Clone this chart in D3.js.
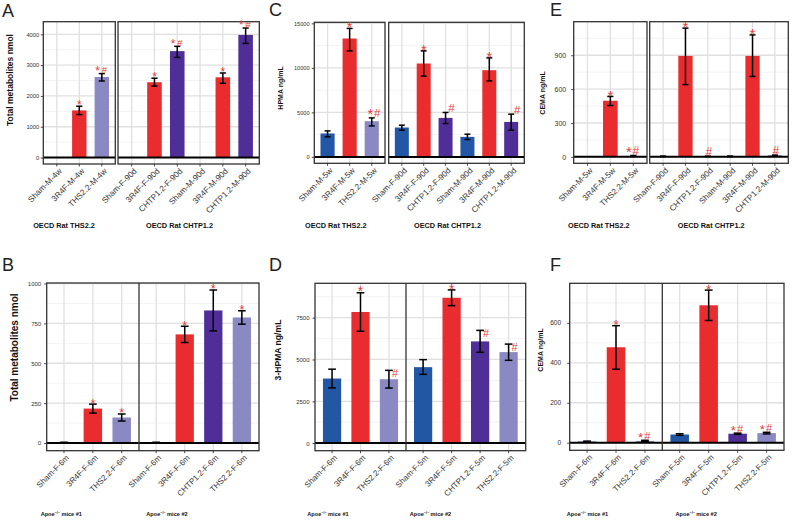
<!DOCTYPE html>
<html><head><meta charset="utf-8">
<script src="https://cdn.jsdelivr.net/npm/d3@7"></script>
<style>body{margin:0;background:#fff} svg{display:block} text{font-family:"Liberation Sans",Arial,sans-serif}</style>
</head><body>
<svg id="c" width="793" height="520"></svg>
<script>
// ---------- data ----------
const productNames = ["Sham","3R4F","CHTP1.2","THS2.2"];
const productColors = ["#2257a5","#e92d2e","#4f2f97","#8b89c3"];

const ratFacetLabels = ["OECD Rat THS2.2","OECD Rat CHTP1.2"];
const apoeFacetLabels = [["Apoe","\u2212/\u2212"," mice #1"],["Apoe","\u2212/\u2212"," mice #2"]];

// Panel A
const aCategories = ["Sham-M-4w","3R4F-M-4w","THS2.2-M-4w","Sham-F-90d","3R4F-F-90d","CHTP1.2-F-90d","Sham-M-90d","3R4F-M-90d","CHTP1.2-M-90d"];
const aFacets = [0,0,0,1,1,1,1,1,1];
const aValues = [null,1530,2615,null,2445,3455,null,2605,3980];
const aLower  = [null,1395,2485,null,2320,3250,null,2410,3705];
const aUpper  = [null,1665,2725,null,2575,3610,null,2745,4205];
const aSignif = ["","*","*#","","*","*#","","*","*#"];
const aTicks = [0,1000,2000,3000,4000];

// Panel C
const cCategories = ["Sham-M-5w","3R4F-M-5w","THS2.2-M-5w","Sham-F-90d","3R4F-F-90d","CHTP1.2-F-90d","Sham-M-90d","3R4F-M-90d","CHTP1.2-M-90d"];
const cFacets = [0,0,0,1,1,1,1,1,1];
const cValues = [2630,13300,4010,3300,10490,4380,2250,9740,3930];
const cLower  = [2250,11910,3480,3000,9070,3750,1955,8540,3000];
const cUpper  = [2920,14430,4380,3560,11910,4990,2550,11120,4800];
const cSignif = ["","*","*#","","*","#","","*","#"];
const cTicks = [0,5000,10000,15000];

// Panel E
const eCategories = ["Sham-M-5w","3R4F-M-5w","THS2.2-M-5w","Sham-F-90d","3R4F-F-90d","CHTP1.2-F-90d","Sham-M-90d","3R4F-M-90d","CHTP1.2-M-90d"];
const eFacets = [0,0,0,1,1,1,1,1,1];
const eValues = [null,497,8,4,894,4,4,894,12];
const eLower  = [null,455,4,2,640,2,2,712,8];
const eUpper  = [null,535,12,7,1140,7,7,1080,16];
const eSignif = ["","*","*#","","*","#","","*","#"];
const eTicks = [0,300,600,900];

// Panel B
const bCategories = ["Sham-F-6m","3R4F-F-6m","THS2.2-F-6m","Sham-F-6m","3R4F-F-6m","CHTP1.2-F-6m","THS2.2-F-6m"];
const bFacets = [0,0,0,1,1,1,1];
const bValues = [3,216,160,3,681,831,787];
const bLower  = [1,188,138,1,630,703,745];
const bUpper  = [5,244,182,5,732,959,829];
const bSignif = ["","*","*","","*","*","*"];
const bTicks = [0,250,500,750,1000];

// Panel D
const dCategories = ["Sham-F-6m","3R4F-F-6m","THS2.2-F-6m","Sham-F-5m","3R4F-F-5m","CHTP1.2-F-5m","THS2.2-F-5m"];
const dFacets = [0,0,0,1,1,1,1];
const dValues = [3860,7840,3820,4540,8690,6080,5440];
const dLower  = [3300,6690,3290,4110,8220,5430,4950];
const dUpper  = [4420,8990,4350,4990,9160,6740,5920];
const dSignif = ["","*","#","","*","#","#"];
const dTicks = [0,2500,5000,7500];

// Panel F
const fCategories = ["Sham-F-6m","3R4F-F-6m","THS2.2-F-6m","Sham-F-5m","3R4F-F-5m","CHTP1.2-F-5m","THS2.2-F-5m"];
const fFacets = [0,0,0,1,1,1,1];
const fValues = [6,478,9,41,688,45,48];
const fLower  = [4,368,6,37,612,42,44];
const fUpper  = [8,586,12,45,764,48,52];
const fSignif = ["","*","*#","","*","*#","*#"];
const fTicks = [0,200,400,600];

// ---------- layout ----------
const panels = [
  {letter:"A", lx:2, ly:17, ytitle:"Total metabolites nmol", tx:10, ty:80, tsize:8.5,
   facets:[[43.3,115.3],[118,259.3]], top:21.7, bottom:164, domain:[-210,4410], ticks:aTicks,
   joined:false, tickGap:3.5, tickFont:5.8, xFont:8.2, strips:ratFacetLabels, sx:[64,179.5], sy:228, sFont:7.3,
   sigFont:9.5, hashOff:0, shift:false,
   d:{cats:aCategories, facet:aFacets, val:aValues, lo:aLower, hi:aUpper, sig:aSignif}},
  {letter:"C", lx:269, ly:16, ytitle:"HPMA ng/mL", tx:280.5, ty:88, tsize:7,
   facets:[[314.3,385],[388.7,524.3]], top:22.3, bottom:163.3, domain:[-720,15120], ticks:cTicks,
   joined:false, tickGap:4.3, tickFont:5.6, xFont:8.2, strips:ratFacetLabels, sx:[335.8,447.5], sy:228, sFont:7.3,
   sigFont:11.5, hashOff:0, shift:true,
   d:{cats:cCategories, facet:cFacets, val:cValues, lo:cLower, hi:cUpper, sig:cSignif}},
  {letter:"E", lx:550, ly:16, ytitle:"CEMA ng/mL", tx:542.5, ty:93, tsize:7,
   facets:[[573.7,647],[649.7,788.3]], top:21.7, bottom:163.3, domain:[-57,1197], ticks:eTicks,
   joined:false, tickGap:7, tickFont:7, xFont:8.2, strips:ratFacetLabels, sx:[598.8,711.2], sy:228, sFont:7.3,
   sigFont:12, hashOff:0, shift:false,
   d:{cats:eCategories, facet:eFacets, val:eValues, lo:eLower, hi:eUpper, sig:eSignif}},
  {letter:"B", lx:2, ly:271, ytitle:"Total metabolites nmol", tx:14.5, ty:347.5, tsize:10,
   facets:[[46.7,139],[139,259]], top:283, bottom:450.7, domain:[-48,1003], ticks:bTicks,
   joined:true, tickGap:5, tickFont:6, xFont:8, apoe:true, sx:[61.3,167], sy:516, sFont:5.6,
   sigFont:10, hashOff:0, shift:false,
   d:{cats:bCategories, facet:bFacets, val:bValues, lo:bLower, hi:bUpper, sig:bSignif}},
  {letter:"D", lx:269, ly:271, ytitle:"3-HPMA ng/mL", tx:277.5, ty:350, tsize:8.6,
   facets:[[315,406],[406,525.7]], top:283.3, bottom:450.7, domain:[-455,9555], ticks:dTicks,
   joined:true, tickGap:5, tickFont:6, xFont:8, apoe:true, sx:[328,430.5], sy:516, sFont:5.6,
   sigFont:11, hashOff:7, shift:true,
   d:{cats:dCategories, facet:dFacets, val:dValues, lo:dLower, hi:dUpper, sig:dSignif}},
  {letter:"F", lx:550, ly:271, ytitle:"CEMA ng/mL", tx:540.5, ty:350, tsize:7,
   facets:[[569.7,662.3],[662.3,784]], top:283.3, bottom:450.3, domain:[-38,798], ticks:fTicks,
   joined:true, tickGap:8, tickFont:6.6, xFont:8, apoe:true, sx:[587.5,696.2], sy:516, sFont:5.6,
   sigFont:10.5, hashOff:0, shift:false,
   d:{cats:fCategories, facet:fFacets, val:fValues, lo:fLower, hi:fUpper, sig:fSignif}}
];

const svg = d3.select("#c");
const color = d3.scaleOrdinal().domain(productNames).range(productColors);
const sigColor = "#e63b3b";

function drawPanel(L) {
  const D = L.d;
  const g = svg.append("g");
  const y = d3.scaleLinear().domain(L.domain).range([L.bottom, L.top]);
  const step = L.ticks[1] - L.ticks[0];
  const minor = d3.range(L.ticks[0] - step/2, L.domain[1], step)
     .filter(v => v > L.domain[0] && v < L.domain[1]);

  const facets = L.facets.map((ext, f) => {
    const idx = D.cats.map((c, i) => i).filter(i => D.facet[i] === f);
    const x = d3.scaleBand().domain(idx.map(i => D.cats[i])).range(ext)
      .paddingInner(0).paddingOuter(0.1);
    return {ext, idx, x};
  });

  facets.forEach(F => {
    const [x0, x1] = F.ext;
    const bw = F.x.bandwidth();
    const cx = c => F.x(c) + bw / 2;
    const gg = g.append("g");
    gg.append("rect").attr("x", x0).attr("y", L.top).attr("width", x1 - x0)
      .attr("height", L.bottom - L.top).attr("fill", "#fff");
    gg.selectAll(".mn").data(minor).join("line")
      .attr("x1", x0).attr("x2", x1).attr("y1", d => y(d)).attr("y2", d => y(d))
      .attr("stroke", "#eeeeee").attr("stroke-width", 0.7);
    gg.selectAll(".mj").data(L.ticks).join("line")
      .attr("x1", x0).attr("x2", x1).attr("y1", d => y(d)).attr("y2", d => y(d))
      .attr("stroke", "#e0e0e0").attr("stroke-width", 1.3);
    gg.selectAll(".vg").data(F.idx).join("line")
      .attr("x1", i => cx(D.cats[i])).attr("x2", i => cx(D.cats[i]))
      .attr("y1", L.top).attr("y2", L.bottom)
      .attr("stroke", "#e0e0e0").attr("stroke-width", 1.3);

    const withVal = F.idx.filter(i => D.val[i] !== null);
    const barW = bw * 0.64;
    gg.selectAll(".bar").data(withVal).join("rect")
      .attr("x", i => cx(D.cats[i]) - barW / 2)
      .attr("width", barW)
      .attr("y", i => y(D.val[i]))
      .attr("height", i => y(0) - y(D.val[i]))
      .attr("fill", i => color(D.cats[i].split("-")[0]));

    gg.append("line").attr("x1", x0).attr("x2", x1).attr("y1", y(0)).attr("y2", y(0))
      .attr("stroke", "#000").attr("stroke-width", 2);

    const capW = bw * 0.27;
    const eb = gg.selectAll(".eb").data(withVal).join("g").attr("stroke", "#000").attr("stroke-width", 1.5);
    eb.append("line").attr("x1", i => cx(D.cats[i])).attr("x2", i => cx(D.cats[i]))
      .attr("y1", i => y(D.lo[i])).attr("y2", i => y(D.hi[i]));
    eb.append("line").attr("x1", i => cx(D.cats[i]) - capW/2).attr("x2", i => cx(D.cats[i]) + capW/2)
      .attr("y1", i => y(D.hi[i])).attr("y2", i => y(D.hi[i]));
    eb.append("line").attr("x1", i => cx(D.cats[i]) - capW/2).attr("x2", i => cx(D.cats[i]) + capW/2)
      .attr("y1", i => y(D.lo[i])).attr("y2", i => y(D.lo[i]));

    // x axis
    const ax = d3.axisBottom(F.x).tickSize(2.5).tickSizeOuter(0);
    const axg = g.append("g").attr("transform", `translate(0,${L.bottom})`).call(ax);
    axg.select(".domain").remove();
    axg.selectAll(".tick line").attr("stroke", "#333").attr("stroke-width", 0.9);
    axg.selectAll(".tick text").attr("x", 0).attr("y", 0).attr("dy", "0.72em")
      .attr("transform", "translate(1.5,3.5) rotate(-45)")
      .style("text-anchor", "end").style("font-size", L.xFont + "px").attr("fill", "#333");
    F.cx = cx;
  });

  // borders
  if (L.joined) {
    const x0 = facets[0].ext[0], x1 = facets[1].ext[1];
    g.append("rect").attr("x", x0).attr("y", L.top).attr("width", x1 - x0).attr("height", L.bottom - L.top)
      .attr("fill", "none").attr("stroke", "#333").attr("stroke-width", 1.3);
    g.append("line").attr("x1", facets[0].ext[1]).attr("x2", facets[0].ext[1])
      .attr("y1", L.top).attr("y2", L.bottom).attr("stroke", "#333").attr("stroke-width", 1.3);
  } else {
    facets.forEach(F => {
      g.append("rect").attr("x", F.ext[0]).attr("y", L.top).attr("width", F.ext[1] - F.ext[0])
        .attr("height", L.bottom - L.top).attr("fill", "none").attr("stroke", "#333").attr("stroke-width", 1.3);
    });
  }

  // significance marks
  facets.forEach(F => {
    F.idx.filter(i => D.sig[i]).forEach(i => {
      const s = D.sig[i], c = F.cx(D.cats[i]), top = y(D.hi[i]);
      const hasStar = s.includes("*"), hasHash = s.includes("#");
      let starX = c, hashX = c;
      if (hasStar && hasHash) { starX = L.shift ? c - 1.5 : c - 4.3; hashX = L.shift ? c + 5.5 : c + 2.6; }
      else if (hasHash) { hashX = L.shift ? c + 6 : c + 1; }
      const hashBase = top - 0.5 + L.hashOff;
      const starBase = hasHash ? hashBase + 0.18 * L.sigFont : top + 0.34 * L.sigFont;
      if (hasStar) g.append("text").attr("x", starX).attr("y", starBase).attr("text-anchor", "middle")
        .attr("fill", sigColor).style("font-size", (L.sigFont * 1.25) + "px").text("*");
      if (hasHash) g.append("text").attr("x", hashX).attr("y", hashBase).attr("text-anchor", "middle")
        .attr("fill", sigColor).style("font-size", L.sigFont + "px").text("#");
    });
  });

  // y axis
  const ay = d3.axisLeft(y).tickValues(L.ticks).tickFormat(d3.format("d"))
    .tickSize(2.5).tickPadding(L.tickGap - 2.5 + 0.5);
  const ayg = g.append("g").attr("transform", `translate(${facets[0].ext[0]},0)`).call(ay);
  ayg.select(".domain").remove();
  ayg.selectAll(".tick line").attr("stroke", "#333").attr("stroke-width", 0.9);
  ayg.selectAll(".tick text").style("font-size", L.tickFont + "px").attr("fill", "#333");

  // y title
  g.append("text").attr("transform", `translate(${L.tx},${L.ty}) rotate(-90)`)
    .attr("text-anchor", "middle").attr("dy", "0.35em").attr("font-weight", "bold")
    .style("font-size", L.tsize + "px").attr("fill", "#111").text(L.ytitle);

  // strip labels
  if (L.apoe) {
    apoeFacetLabels.forEach((parts, k) => {
      const t = g.append("text").attr("x", L.sx[k]).attr("y", L.sy).attr("text-anchor", "middle")
        .attr("font-weight", "bold").style("font-size", L.sFont + "px").attr("fill", "#111");
      t.append("tspan").text(parts[0]);
      t.append("tspan").attr("dy", -2).style("font-size", (L.sFont * 0.65) + "px").text(parts[1]);
      t.append("tspan").attr("dy", 2).text(parts[2]);
    });
  } else {
    L.strips.forEach((s, k) => {
      g.append("text").attr("x", L.sx[k]).attr("y", L.sy).attr("text-anchor", "middle")
        .attr("font-weight", "bold").style("font-size", L.sFont + "px").attr("fill", "#111").text(s);
    });
  }

  // panel letter
  g.append("text").attr("x", L.lx).attr("y", L.ly).style("font-size", "18px").attr("fill", "#222").text(L.letter);
}

panels.forEach(drawPanel);
</script>
</body></html>
